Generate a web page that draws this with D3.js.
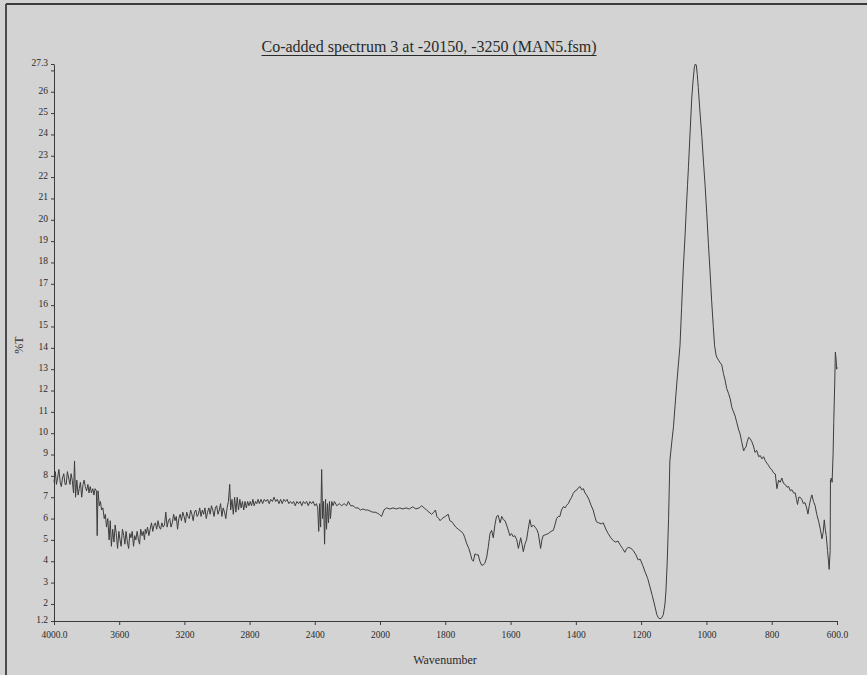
<!DOCTYPE html>
<html>
<head>
<meta charset="utf-8">
<script src="https://cdn.jsdelivr.net/npm/d3@7"></script>
<style>
  html, body { margin: 0; padding: 0; background: #d3d3d3; }
  svg { display: block; }
</style>
</head>
<body>
<svg id="chart" width="867" height="675"></svg>
<script>
// IR transmission spectrum, wavenumber (cm-1) against %T
const wavenumber = [
  4000,3992,3985,3978,3970,3962,3955,3948,3940,3932,
  3925,3918,3910,3902,3895,3888,3880,3874,3868,3860,
  3852,3845,3838,3830,3822,3815,3808,3800,3792,3785,
  3778,3770,3762,3755,3748,3740,3735,3730,3722,3715,
  3708,3700,3692,3685,3678,3670,3662,3655,3648,3640,
  3632,3625,3618,3610,3602,3595,3588,3580,3572,3565,
  3558,3550,3542,3535,3528,3520,3512,3505,3498,3490,
  3482,3475,3468,3460,3452,3445,3440,3434,3426,3418,
  3410,3402,3394,3386,3378,3370,3362,3354,3346,3338,
  3330,3322,3314,3306,3298,3290,3282,3274,3266,3258,
  3250,3242,3234,3226,3218,3210,3202,3194,3186,3178,
  3170,3162,3154,3146,3138,3130,3122,3114,3106,3098,
  3090,3082,3074,3066,3058,3050,3042,3034,3026,3018,
  3010,3002,2994,2986,2978,2970,2962,2954,2946,2938,
  2930,2922,2916,2908,2900,2892,2884,2876,2868,2860,
  2852,2844,2836,2828,2820,2812,2804,2796,2788,2780,
  2772,2764,2756,2748,2740,2730,2720,2710,2700,2690,
  2680,2670,2660,2650,2640,2630,2620,2610,2600,2590,
  2580,2570,2560,2550,2540,2530,2520,2510,2500,2490,
  2480,2470,2460,2450,2440,2430,2420,2410,2400,2390,
  2382,2376,2370,2364,2358,2352,2346,2340,2334,2328,
  2322,2316,2310,2304,2296,2288,2280,2265,2250,2235,
  2220,2205,2194,2180,2165,2150,2135,2120,2105,2090,
  2075,2060,2045,2030,2015,2005,1995,1988,1980,1970,
  1960,1950,1940,1930,1920,1910,1900,1890,1880,1872,
  1865,1857,1850,1842,1835,1830,1826,1820,1816,1810,
  1800,1791,1786,1780,1775,1768,1760,1752,1745,1740,
  1735,1728,1722,1719,1714,1709,1704,1699,1694,1689,
  1684,1679,1673,1668,1663,1658,1653,1648,1643,1638,
  1632,1627,1622,1617,1610,1602,1597,1592,1587,1581,
  1576,1569,1565,1561,1556,1551,1546,1541,1536,1530,
  1525,1520,1515,1510,1508,1504,1500,1492,1484,1476,
  1469,1464,1459,1454,1449,1444,1438,1433,1428,1423,
  1418,1413,1408,1402,1397,1392,1387,1382,1377,1372,
  1367,1360,1353,1347,1342,1337,1330,1322,1316,1308,
  1301,1293,1285,1278,1271,1265,1257,1250,1244,1238,
  1231,1224,1216,1209,1203,1195,1188,1180,1173,1166,
  1158,1152,1147,1142,1137,1132,1127,1124,1120,1116,
  1112,1106,1101,1096,1091,1086,1081,1076,1071,1066,
  1062,1058,1055,1050,1045,1041,1037,1034,1031,1028,
  1025,1020,1014,1009,1004,999,994,989,984,979,
  975,971,968,962,958,953,948,943,938,932,
  927,922,917,912,907,902,897,892,886,882,
  879,875,871,866,861,856,851,846,840,835,
  830,825,820,815,810,805,800,795,789,784,
  779,774,769,764,759,753,748,743,738,733,
  728,724,721,717,713,708,703,698,693,689,
  685,681,677,672,667,662,656,651,646,642,
  639,636,633,629,626,624,621,620,617,615,
  612,610,607,605,603,601,600
];

const percentT = [
  7.7,8.2,7.6,7.9,8.3,7.7,7.5,7.9,8.1,7.6,
  7.6,8.2,7.9,7.6,8.1,7.8,7.2,8.7,7.0,7.8,
  7.1,7.4,7.7,7.0,7.6,7.8,7.5,7.3,7.6,7.2,
  7.5,7.2,7.4,7.1,7.4,7.3,5.2,7.3,6.6,6.8,
  6.4,6.5,6.0,6.2,5.6,6.0,5.0,5.9,4.7,5.5,
  4.9,5.7,5.3,4.6,5.4,5.0,4.7,5.5,5.2,4.8,
  5.4,4.9,4.6,5.3,5.1,5.4,4.7,5.2,5.0,5.4,
  5.0,4.8,5.5,5.2,5.4,5.0,5.5,5.3,5.6,5.2,
  5.5,5.8,5.4,5.7,5.8,5.5,5.9,5.6,5.5,5.8,
  5.6,5.7,6.3,5.6,5.9,6.0,5.6,5.8,6.2,5.9,
  6.1,5.5,6.0,6.2,5.9,6.3,6.1,5.8,6.3,6.1,
  6.0,6.4,6.2,5.9,6.3,6.4,6.1,6.2,6.5,6.1,
  6.4,6.2,6.5,6.0,6.3,6.5,6.2,6.6,6.4,6.1,
  6.5,6.6,6.2,6.4,6.7,6.1,6.5,6.3,6.0,6.5,
  6.8,7.6,6.4,6.9,6.2,7.0,6.3,7.0,6.4,6.9,
  6.5,6.8,6.4,6.8,6.5,6.8,6.6,6.8,6.6,6.9,
  6.6,6.8,6.7,6.9,6.7,6.9,6.7,6.9,6.8,6.9,
  6.7,6.9,6.8,7.0,6.8,6.9,6.7,6.9,6.7,6.9,
  6.8,6.9,6.7,6.8,6.7,6.8,6.6,6.8,6.7,6.8,
  6.6,6.8,6.7,6.8,6.6,6.8,6.7,6.8,6.6,6.7,
  6.5,5.4,6.7,5.6,8.3,6.0,6.8,4.8,6.9,5.5,
  6.7,5.8,6.8,6.0,6.8,6.6,6.8,6.6,6.7,6.6,
  6.7,6.6,6.8,6.6,6.6,6.5,6.5,6.4,6.45,6.4,
  6.4,6.35,6.3,6.3,6.25,6.2,6.1,6.4,6.5,6.45,
  6.5,6.45,6.5,6.45,6.5,6.45,6.55,6.45,6.5,6.6,
  6.5,6.4,6.3,6.2,6.3,6.4,6.1,6.0,5.9,6.0,
  6.1,6.2,5.9,5.85,5.75,5.6,5.5,5.4,5.3,5.1,
  4.85,4.6,4.3,4.1,4.0,4.35,4.3,4.3,4.0,3.82,
  3.82,3.9,4.2,4.7,5.3,5.45,5.1,5.7,6.1,6.15,
  5.8,6.1,5.95,5.9,5.6,5.2,5.3,5.15,5.2,5.0,
  4.6,5.1,4.8,4.45,4.8,5.0,5.5,5.95,5.6,5.7,
  5.6,5.5,5.3,4.8,4.6,5.0,5.2,5.25,5.3,5.4,
  5.45,5.7,6.0,6.1,6.1,6.4,6.56,6.5,6.63,6.7,
  6.87,7.0,7.18,7.3,7.34,7.45,7.5,7.35,7.4,7.2,
  7.1,6.9,6.6,6.4,6.1,5.85,5.8,5.75,5.8,5.5,
  5.3,5.1,4.96,4.9,4.95,4.78,4.6,4.42,4.6,4.65,
  4.6,4.5,4.3,4.06,4.1,3.8,3.5,3.2,2.8,2.4,
  1.9,1.5,1.35,1.3,1.35,1.5,2.0,2.6,4.0,6.0,
  8.7,9.6,10.3,11.3,12.3,13.2,14.1,15.9,17.7,19.1,
  20.4,21.6,22.5,24.1,25.7,26.5,27.15,27.3,27.25,26.8,
  26.2,25.1,23.9,22.7,21.6,20.3,18.9,17.6,16.2,15.0,
  14.1,13.7,13.55,13.4,13.3,13.2,12.8,12.5,12.1,11.85,
  11.6,11.2,11.0,10.8,10.5,10.2,9.97,9.6,9.17,9.3,
  9.35,9.6,9.8,9.75,9.6,9.4,9.1,9.2,8.9,8.95,
  8.8,8.9,8.72,8.6,8.5,8.36,8.3,8.15,8.09,7.4,
  7.8,7.7,7.9,7.65,7.6,7.47,7.5,7.3,7.35,7.2,
  7.2,6.9,6.66,7.0,7.0,6.9,6.7,6.75,6.5,6.21,
  6.6,6.9,7.11,6.8,6.6,6.2,5.85,5.5,5.05,5.4,
  5.94,5.5,5.2,4.5,4.0,3.62,4.5,7.82,7.9,7.7,
  9.0,10.5,12.3,13.8,13.5,13.0,13.1
];

// Axis ticks: the wavenumber axis doubles its scale below 2000 cm-1
const xTicks = [4000, 3600, 3200, 2800, 2400, 2000, 1800, 1600, 1400, 1200, 1000, 800, 600];
const yTicks = [1.2, 2, 3, 4, 5, 6, 7, 8, 9, 10, 11, 12, 13, 14, 15, 16, 17, 18, 19, 20,
                21, 22, 23, 24, 25, 26, 27, 27.3];
const xDomain = [4000, 2000, 600];
const yDomain = [1.2, 27.3];

const titleText = "Co-added spectrum 3 at -20150, -3250 (MAN5.fsm)";
const xLabel = "Wavenumber";
const yLabel = "%T";

const serif = "'Liberation Serif', 'Times New Roman', Times, serif";
const ink = "#3a3a3a";

const svg = d3.select("#chart");

// page frame
svg.append("line").attr("x1", 6).attr("y1", 4).attr("x2", 6).attr("y2", 675)
  .attr("stroke", "#3c3c3c").attr("stroke-width", 1.8);
svg.append("line").attr("x1", 6).attr("y1", 4).attr("x2", 867).attr("y2", 4)
  .attr("stroke", "#3c3c3c").attr("stroke-width", 1.8);

const x = d3.scaleLinear().domain(xDomain).range([54, 380, 837]);
const y = d3.scaleLinear().domain(yDomain).range([621, 64]);

// x axis
const xAxis = d3.axisBottom(x)
  .tickValues(xTicks)
  .tickSize(4)
  .tickSizeOuter(0)
  .tickFormat(d => (d === 4000 || d === 600) ? d.toFixed(1) : String(d));

const gx = svg.append("g").attr("transform", "translate(0,621)").call(xAxis);
gx.select(".domain").attr("stroke", ink).attr("stroke-width", 1);
gx.selectAll(".tick line").attr("stroke", ink);
gx.selectAll(".tick text")
  .attr("y", 10)
  .attr("fill", "#2a2a2a")
  .style("font-family", serif)
  .style("font-size", "9.5px");

// y axis
const yAxis = d3.axisLeft(y)
  .tickValues(yTicks)
  .tickSize(3)
  .tickSizeOuter(0)
  .tickFormat(d => d === 27 ? "" : ((d === 1.2 || d === 27.3) ? d.toFixed(1) : String(d)));

const gy = svg.append("g").attr("transform", "translate(54,0)").call(yAxis);
gy.select(".domain").attr("stroke", ink).attr("stroke-width", 1);
gy.selectAll(".tick line").attr("stroke", ink);
gy.selectAll(".tick text")
  .attr("x", -6)
  .attr("dy", "0.15em")
  .attr("fill", "#2a2a2a")
  .style("font-family", serif)
  .style("font-size", "9.5px");

// spectrum trace
const points = wavenumber.map((w, i) => [w, percentT[i]]);
const line = d3.line().x(d => x(d[0])).y(d => y(d[1]));
svg.append("path")
  .datum(points)
  .attr("d", line)
  .attr("fill", "none")
  .attr("stroke", "#3d3d3d")
  .attr("stroke-width", 1)
  .attr("stroke-linejoin", "round");

// title with underline
const title = svg.append("text")
  .attr("x", 429).attr("y", 52)
  .attr("text-anchor", "middle")
  .attr("fill", "#2a2a2a")
  .style("font-family", serif)
  .style("font-size", "16px")
  .text(titleText);
const tw = title.node().getComputedTextLength();
svg.append("line")
  .attr("x1", 429 - tw / 2).attr("x2", 429 + tw / 2)
  .attr("y1", 55.5).attr("y2", 55.5)
  .attr("stroke", "#2a2a2a").attr("stroke-width", 1);

// axis titles
svg.append("text")
  .attr("x", 445).attr("y", 664)
  .attr("text-anchor", "middle")
  .attr("fill", "#2a2a2a")
  .style("font-family", serif)
  .style("font-size", "12px")
  .text(xLabel);

svg.append("text")
  .attr("transform", "translate(23,345) rotate(-90)")
  .attr("text-anchor", "middle")
  .attr("fill", "#2a2a2a")
  .style("font-family", serif)
  .style("font-size", "12px")
  .text(yLabel);
</script>
</body>
</html>
